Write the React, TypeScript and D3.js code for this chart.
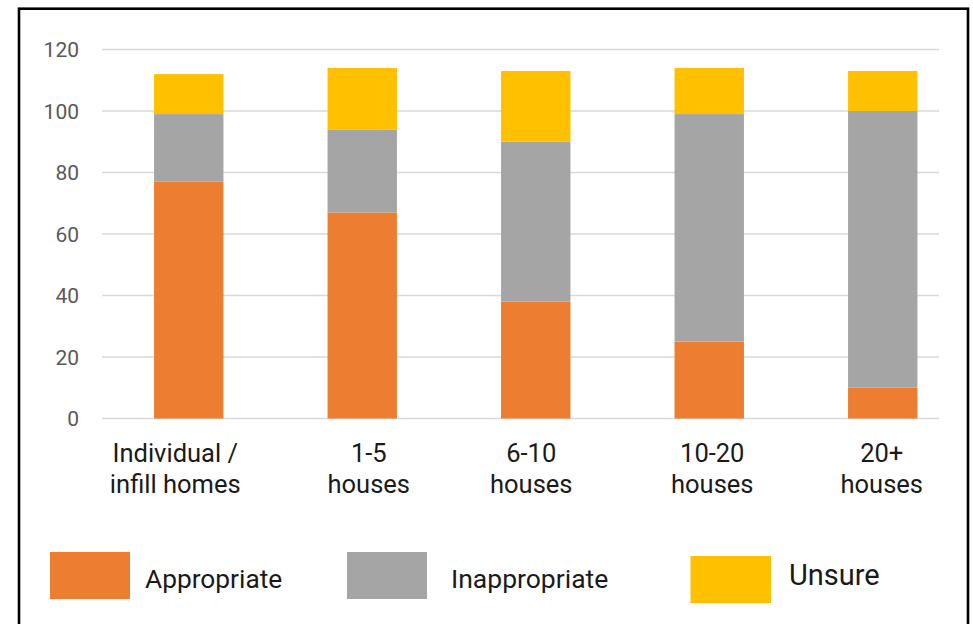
import React from "react";
import * as d3 from "d3";

const categories = ["Individual / infill homes", "1-5 houses", "6-10 houses", "10-20 houses", "20+ houses"];
const categoryLines = [["Individual /", "infill homes"], ["1-5", "houses"], ["6-10", "houses"], ["10-20", "houses"], ["20+", "houses"]];
const appropriate = [77, 67, 38, 25, 10];
const inappropriate = [22, 27, 52, 74, 90];
const unsure = [13, 20, 23, 15, 13];
const seriesNames = ["Appropriate", "Inappropriate", "Unsure"];
const yTicks = [0, 20, 40, 60, 80, 100, 120];

const colors = ["#ED7D31", "#A5A5A5", "#FFC000"];
// small horizontal nudges of the category labels (layout only)
const labelNudge = [-13.5, 6.5, -4.5, 3, -1];

export default function App() {
  const W = 973, H = 624;
  const x = d3.scaleBand<string>().domain(categories).range([102, 969.5]).paddingInner(0.6).paddingOuter(0.3);
  const y = d3.scaleLinear().domain([0, 120]).range([418.5, 49.5]);
  const rows = categories.map((c, i) => ({ cat: c, Appropriate: appropriate[i], Inappropriate: inappropriate[i], Unsure: unsure[i] }));
  const stack = d3.stack<any>().keys(seriesNames)(rows);

  const legend = [
    { x: 50, y: 552, w: 80, h: 47, tx: 145, ty: 588, fs: 26.3 },
    { x: 347, y: 552, w: 80, h: 47, tx: 451, ty: 588, fs: 26.5 },
    { x: 690.5, y: 556, w: 80.5, h: 47, tx: 789, ty: 585, fs: 29 },
  ];

  return (
    <svg width={W} height={H} style={{ position: "absolute", left: 0, top: 0, background: "#fff" }} fontFamily="Roboto, sans-serif">
      <rect x={0} y={0} width={W} height={H} fill="#fff" />
      {yTicks.map((t) => (
        <g key={t}>
          <line x1={102} x2={939} y1={y(t)} y2={y(t)} stroke="#D9D9D9" strokeWidth={1.5} />
          <text x={79} y={y(t) + 7.5} textAnchor="end" fontSize={21} fill="#595959">{t}</text>
        </g>
      ))}
      {stack.map((s, si) => (
        <g key={s.key} fill={colors[si]}>
          {s.map((d, i) => (
            <rect key={i} x={x(categories[i])} width={x.bandwidth()} y={y(d[1])} height={y(d[0]) - y(d[1])} />
          ))}
        </g>
      ))}
      {categories.map((c, i) => {
        const cx = (x(c) as number) + x.bandwidth() / 2 + labelNudge[i];
        return (
          <text key={c} textAnchor="middle" fontSize={25.5} fill="#1A1A1A">
            <tspan x={cx} y={462}>{categoryLines[i][0]}</tspan>
            <tspan x={cx} y={493}>{categoryLines[i][1]}</tspan>
          </text>
        );
      })}
      {seriesNames.map((n, i) => (
        <g key={n}>
          <rect x={legend[i].x} y={legend[i].y} width={legend[i].w} height={legend[i].h} fill={colors[i]} />
          <text x={legend[i].tx} y={legend[i].ty} fontSize={legend[i].fs} fill="#1A1A1A">{n}</text>
        </g>
      ))}
      <rect x={19} y={8.7} width={949} height={640} fill="none" stroke="#000" strokeWidth={2.6} />
    </svg>
  );
}
